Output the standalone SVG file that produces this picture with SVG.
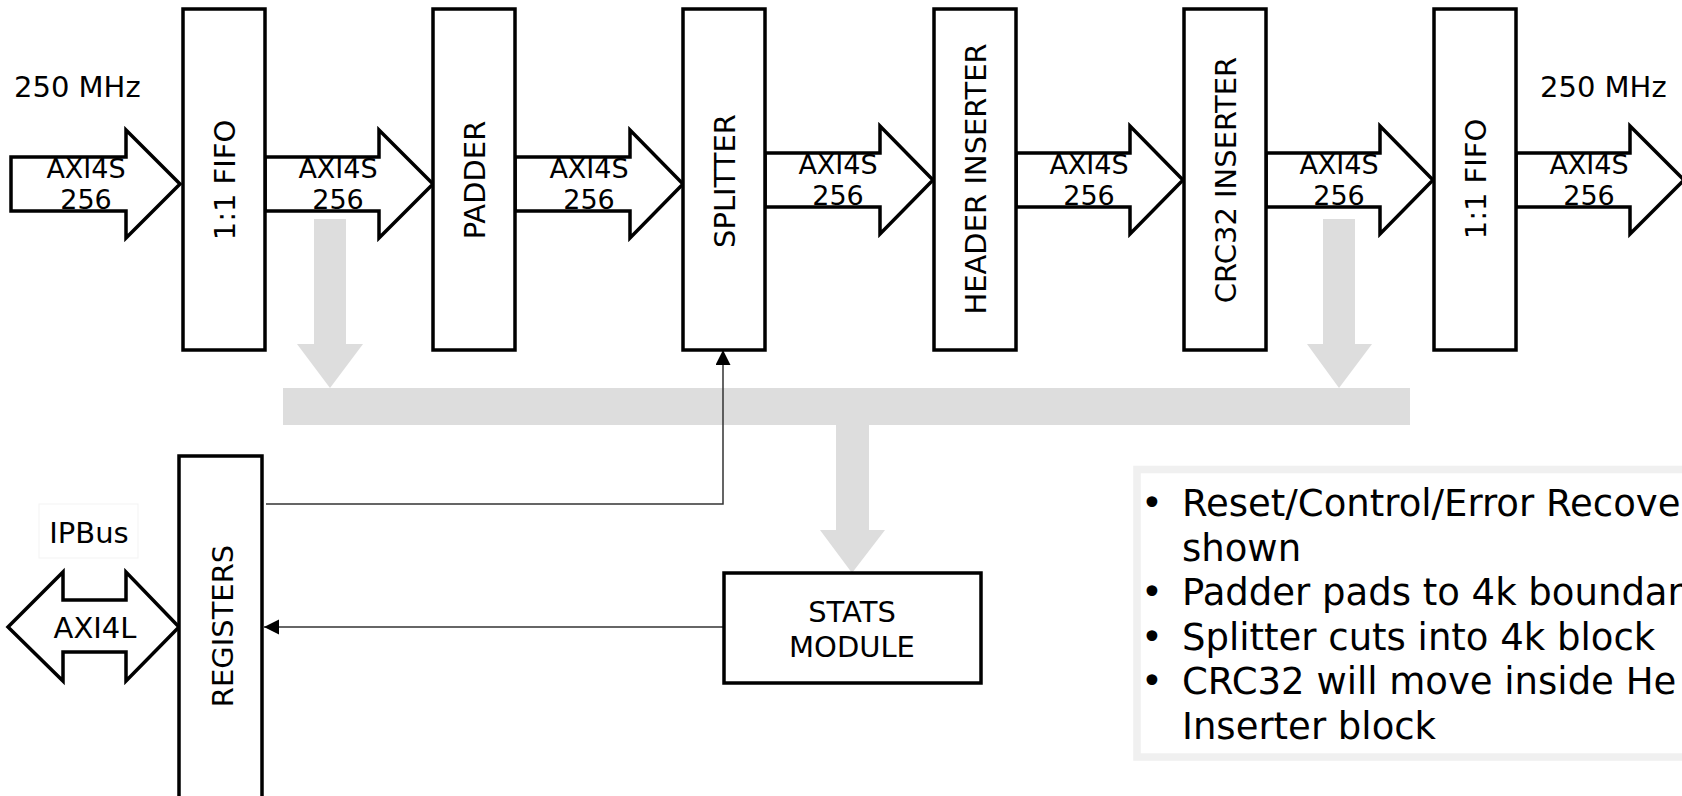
<svg xmlns="http://www.w3.org/2000/svg" width="1682" height="796" viewBox="0 0 1682 796">
  <style>
    text { font-family: "DejaVu Sans", "Liberation Sans", sans-serif; fill: #000; }
    .box { fill: #fff; stroke: #000; stroke-width: 3.5; }
    .flow { fill: #fff; stroke: #000; stroke-width: 3.5; stroke-linejoin: miter; }
    .bus { fill: #dddddd; stroke: none; }
    .ctl { fill: none; stroke: #333; stroke-width: 1.5; }
    .name { font-size: 29px; text-anchor: middle; }
    .bw { font-size: 27px; text-anchor: middle; }
    .clk { font-size: 29px; }
    .note { font-size: 37px; }
  </style>
  <defs>
    <marker id="tip" markerUnits="userSpaceOnUse" markerWidth="16" markerHeight="16" refX="15" refY="7.5" orient="auto">
      <path d="M0,0 L15,7.5 L0,15 Z" fill="#000"/>
    </marker>
  </defs>

  <rect width="1682" height="796" fill="#fff"/>

  <!-- connectors: stream arrows, status bus, control lines -->
  <g id="connectors">
    <polygon class="flow" points="11,157 126,157 126,130 180,184 126,238 126,211 11,211"/>
    <polygon class="flow" points="265,157 379,157 379,130 433,184 379,238 379,211 265,211"/>
    <polygon class="flow" points="515,157 630,157 630,130 683,184 630,238 630,211 515,211"/>
    <polygon class="flow" points="765,153 880,153 880,126 933,180 880,234 880,207 765,207"/>
    <polygon class="flow" points="1016,153 1130,153 1130,126 1183,180 1130,234 1130,207 1016,207"/>
    <polygon class="flow" points="1266,153 1380,153 1380,126 1433,180 1380,234 1380,207 1266,207"/>
    <polygon class="flow" points="1516,153 1630,153 1630,126 1684,180 1630,234 1630,207 1516,207"/>

    <text class="bw" x="86" y="178">AXI4S</text><text class="bw" x="86" y="209">256</text>
    <text class="bw" x="338" y="178">AXI4S</text><text class="bw" x="338" y="209">256</text>
    <text class="bw" x="589" y="178">AXI4S</text><text class="bw" x="589" y="209">256</text>
    <text class="bw" x="838" y="174">AXI4S</text><text class="bw" x="838" y="205">256</text>
    <text class="bw" x="1089" y="174">AXI4S</text><text class="bw" x="1089" y="205">256</text>
    <text class="bw" x="1339" y="174">AXI4S</text><text class="bw" x="1339" y="205">256</text>
    <text class="bw" x="1589" y="174">AXI4S</text><text class="bw" x="1589" y="205">256</text>

    <!-- AXI4-Lite bidirectional link -->
    <polygon class="flow" points="8,627 63,572 63,600 126,600 126,572 179,627 126,681 126,652 63,652 63,681"/>
    <text class="name" x="95" y="638">AXI4L</text>

    <!-- status bus -->
    <polygon class="bus" points="314,219 346,219 346,344 363,344 330,388 297,344 314,344"/>
    <polygon class="bus" points="1323,219 1355,219 1355,344 1372,344 1339,388 1307,344 1323,344"/>
    <rect class="bus" x="283" y="388" width="1127" height="37"/>
    <polygon class="bus" points="836,425 869,425 869,530 885,530 852,573 820,530 836,530"/>

    <!-- control lines -->
    <polyline class="ctl" points="266,504 723,504 723,350" marker-end="url(#tip)"/>
    <line class="ctl" x1="724" y1="627" x2="264" y2="627" marker-end="url(#tip)"/>
  </g>

  <g id="clk-in"><text class="clk" x="14" y="97">250 MHz</text></g>
  <g id="clk-out"><text class="clk" x="1540" y="97">250 MHz</text></g>

  <g id="fifo-in">
    <rect class="box" x="183" y="9" width="82" height="341"/>
    <text class="name" transform="translate(235,180) rotate(-90)">1:1 FIFO</text>
  </g>
  <g id="padder">
    <rect class="box" x="433" y="9" width="82" height="341"/>
    <text class="name" transform="translate(485,180) rotate(-90)">PADDER</text>
  </g>
  <g id="splitter">
    <rect class="box" x="683" y="9" width="82" height="341"/>
    <text class="name" transform="translate(735,181) rotate(-90)">SPLITTER</text>
  </g>
  <g id="header-inserter">
    <rect class="box" x="934" y="9" width="82" height="341"/>
    <text class="name" transform="translate(986,179) rotate(-90)">HEADER INSERTER</text>
  </g>
  <g id="crc32-inserter">
    <rect class="box" x="1184" y="9" width="82" height="341"/>
    <text class="name" transform="translate(1236,180) rotate(-90)">CRC32 INSERTER</text>
  </g>
  <g id="fifo-out">
    <rect class="box" x="1434" y="9" width="82" height="341"/>
    <text class="name" transform="translate(1486,179) rotate(-90)">1:1 FIFO</text>
  </g>

  <g id="registers">
    <rect class="box" x="179" y="456" width="83" height="360"/>
    <text class="name" transform="translate(233,626) rotate(-90)">REGISTERS</text>
  </g>

  <g id="stats-module">
    <rect class="box" x="724" y="573" width="257" height="110"/>
    <text class="name" x="852" y="622">STATS</text>
    <text class="name" x="852" y="657">MODULE</text>
  </g>

  <g id="ipbus">
    <rect x="39" y="504" width="99" height="54" fill="#fff" stroke="#f3f3f3" stroke-width="1"/>
    <text class="name" x="89" y="543">IPBus</text>
  </g>

  <g id="notes">
    <rect x="1137" y="469.5" width="600" height="287.5" fill="#fff" stroke="#f0f0f0" stroke-width="7.5"/>
    <g class="note">
      <text x="1152" y="516" text-anchor="middle">•</text>
      <text x="1182" y="516">Reset/Control/Error Recove</text>
      <text x="1182" y="561">shown</text>
      <text x="1152" y="605" text-anchor="middle">•</text>
      <text x="1182" y="605">Padder pads to 4k boundar</text>
      <text x="1152" y="650" text-anchor="middle">•</text>
      <text x="1182" y="650">Splitter cuts into 4k block</text>
      <text x="1152" y="694" text-anchor="middle">•</text>
      <text x="1182" y="694">CRC32 will move inside He</text>
      <text x="1182" y="739">Inserter block</text>
    </g>
  </g>
</svg>
